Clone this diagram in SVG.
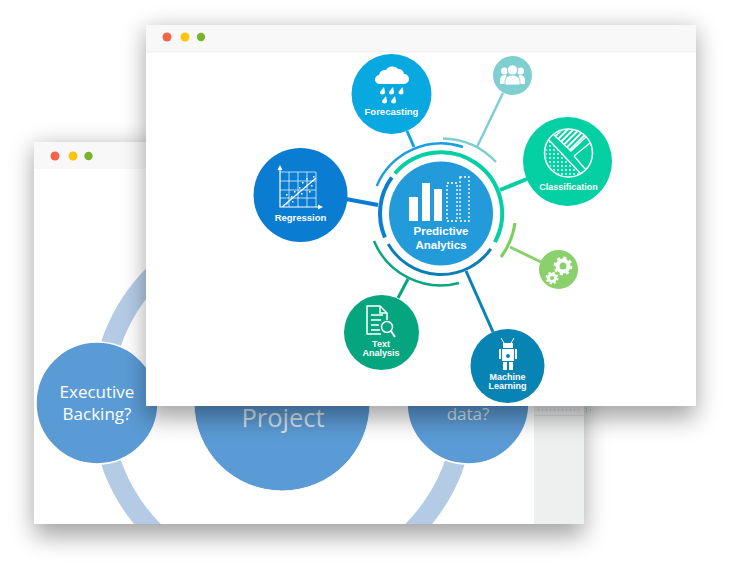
<svg xmlns="http://www.w3.org/2000/svg" width="732" height="564" viewBox="0 0 732 564">
<style>
.bar{fill:#f8f8f8}
.bt{font-family:"Open Sans","Noto Sans",sans-serif;text-anchor:middle}
.ft{font-family:"Liberation Sans",Arial,sans-serif;font-weight:700;fill:#fff;text-anchor:middle}
.arc{fill:none}
.ic{fill:none;stroke:#fff}
.w{fill:#fff}
</style>
<defs>
<filter id="blur" x="-20%" y="-20%" width="140%" height="140%"><feGaussianBlur stdDeviation="12"/></filter>
<clipPath id="backClip"><rect x="34" y="142" width="550" height="382"/></clipPath>
<pattern id="dots" width="4" height="4" patternUnits="userSpaceOnUse"><circle cx="2" cy="2" r="0.9" fill="#fff"/></pattern>
<pattern id="hatch" width="4" height="4" patternUnits="userSpaceOnUse" patternTransform="rotate(45)"><rect width="2" height="4" fill="#fff"/></pattern>
</defs>

<g id="back-window">
<rect x="34" y="147" width="550" height="389" fill="#000" opacity="0.36" filter="url(#blur)"/>
<rect x="34" y="142" width="550" height="382" fill="#fff"/>
<rect x="34" y="142" width="550" height="27" class="bar"/>
<circle cx="55" cy="156" r="4.500" fill="#f4644a"/>
<circle cx="73" cy="156" r="4.500" fill="#fdc40c"/>
<circle cx="88.500" cy="156" r="4.200" fill="#7cb32c"/>
<rect x="534" y="406" width="50" height="118" fill="#eeefef"/>
<path d="M538 410H581" fill="none" stroke="#8fb4d8" stroke-width="0.800" stroke-dasharray="1 3"/>
<path d="M534 415.500H584" fill="none" stroke="#d9d9d9" stroke-width="0.800"/>
<path d="M586.500 408.500v4M590 410h1" fill="none" stroke="#3fbf8f" stroke-width="0.800" stroke-dasharray="1 1.500"/>
<g clip-path="url(#backClip)">
<circle cx="283" cy="403" r="182" fill="none" stroke="#b4cbe6" stroke-width="20"/>
</g>
</g>
<g id="node-project">
<circle cx="282" cy="403" r="88" fill="#5b9bd5" stroke="#fff" stroke-width="1"/>
<text class="bt" x="283" y="427" font-size="25.500" fill="#d9e2ea">Project</text>
</g>
<g id="node-executive">
<circle cx="97" cy="403" r="61" fill="#5b9bd5" stroke="#fff" stroke-width="1.500"/>
<text class="bt" x="97" y="398" font-size="17" fill="#fff">Executive</text>
<text class="bt" x="97" y="420" font-size="17" fill="#fff">Backing?</text>
</g>
<g id="node-data">
<circle cx="468" cy="403" r="61" fill="#5b9bd5" stroke="#fff" stroke-width="1.500"/>
<text class="bt" x="468" y="420" font-size="17" fill="#d9e2ea">data?</text>
</g>

<g id="front-window">
<rect x="146" y="30" width="550" height="388" fill="#000" opacity="0.36" filter="url(#blur)"/>
<rect x="146" y="25" width="550" height="381" fill="#fff"/>
<rect x="146" y="25" width="550" height="26" class="bar"/>
<rect x="146" y="51" width="550" height="1.500" fill="#f1f1f1"/>
<circle cx="167" cy="37" r="4.500" fill="#f4644a"/>
<circle cx="185" cy="37" r="4.500" fill="#fdc40c"/>
<circle cx="201" cy="37" r="4.200" fill="#7cb32c"/>
</g>

<g id="connectors" fill="none">
<path d="M407 131L414 147" stroke="#0ea3e0" stroke-width="3"/>
<path d="M503 93L477 147" stroke="#7fcfd0" stroke-width="2.500"/>
<path d="M500 190L527 179" stroke="#04d0a3" stroke-width="4"/>
<path d="M346 199L378 205" stroke="#0a7dd2" stroke-width="4"/>
<path d="M398 298L408 279" stroke="#04a57f" stroke-width="3"/>
<path d="M466 271L493 332" stroke="#0784b4" stroke-width="3"/>
<path d="M510 247L541 262" stroke="#8ad06b" stroke-width="3"/>
<path class="arc" d="M394.900 173.500A61 61 0 0 1 494.900 242.100" stroke="#06cfa4" stroke-width="4"/>
<path class="arc" d="M384.900 237.500A61 61 0 0 1 391.800 177.400" stroke="#0c7ed0" stroke-width="4"/>
<path class="arc" d="M490.800 248.900A61 61 0 0 1 388.200 244" stroke="#0a7fb5" stroke-width="3"/>
<path class="arc" d="M376.700 185.900A70 70 0 0 1 463 147" stroke="#1b9fe0" stroke-width="2.500"/>
<path class="arc" d="M443 138.500A75 75 0 0 1 496 162" stroke="#7fcfd0" stroke-width="2.500"/>
<path class="arc" d="M459 283A72 72 0 0 1 374 241" stroke="#0aa67e" stroke-width="2.500"/>
<path class="arc" d="M515 223A75 75 0 0 1 501 257" stroke="#7ccf5f" stroke-width="3"/>
</g>

<g id="node-predictive">
<circle cx="441" cy="213.500" r="52" fill="#239bdb"/>
<rect class="w" x="409" y="197" width="9" height="24"/>
<rect class="w" x="422" y="183" width="8" height="38"/>
<rect class="w" x="434" y="189" width="8" height="32"/>
<rect x="447" y="183" width="10" height="38" fill="none" stroke="#fff" stroke-width="1.300" stroke-dasharray="2 2"/>
<rect x="460" y="177" width="9" height="44" fill="none" stroke="#fff" stroke-width="1.300" stroke-dasharray="2 2"/>
<text class="ft" x="441" y="235" font-size="11.500">Predictive</text>
<text class="ft" x="441" y="249" font-size="11.500">Analytics</text>
</g>

<g id="node-forecasting">
<circle cx="391.500" cy="94" r="40" fill="#08a8e0"/>
<path class="w" d="M380 84a4.500 4.500 0 0 1-1-9a6 6 0 0 1 7-5a7.500 7.500 0 0 1 12-1a6 6 0 0 1 6 5a5 5 0 0 1 0 10z"/>
<path class="w" d="M384 87l1 5a2.500 2.500 0 1 1-5 0zM393 87l1 5a2.500 2.500 0 1 1-5 0zM402.500 87l1 5a2.500 2.500 0 1 1-5 0zM386 96l1 5a2.500 2.500 0 1 1-5 0zM395 96l1 5a2.500 2.500 0 1 1-5 0z"/>
<text class="ft" x="391.500" y="115" font-size="9.500">Forecasting</text>
</g>

<g id="node-users">
<circle cx="512.500" cy="75.500" r="19.500" fill="#7fcfd0"/>
<circle class="w" cx="504.500" cy="71" r="3.500"/>
<circle class="w" cx="520.500" cy="71" r="3.500"/>
<path class="w" d="M500 84v-4a5 5 0 0 1 6-5l2 9zM525 84v-4a5 5 0 0 0-6-5l-2 9z"/>
<circle cx="512.500" cy="70" r="5.200" class="w" stroke="#7fcfd0"/>
<path class="w" d="M505 85v-4a7.500 6 0 0 1 15 0v4z" stroke="#7fcfd0" stroke-width="0.800"/>
</g>

<g id="node-classification">
<circle cx="567.500" cy="161.500" r="44.500" fill="#04d0a3"/>
<path d="M549 141A24 24 0 0 0 581 174z" fill="url(#dots)"/>
<path d="M554 135A24 24 0 0 1 586 137L571 151z" fill="url(#hatch)"/>
<circle class="ic" cx="568.500" cy="153" r="24" stroke-width="1.500"/>
<path class="ic" d="M549 140L581 174M554 135L571 151L586 137M574 156L590 143M574 156L586 170" stroke-width="1.300"/>
<text class="ft" x="568.500" y="190" font-size="9">Classification</text>
</g>

<g id="node-gears">
<circle cx="558.500" cy="269.500" r="19.500" fill="#8ad06b"/>
<circle cx="563" cy="266" r="5.500" fill="none" stroke="#fff" stroke-width="4"/>
<circle cx="563" cy="266" r="8.200" fill="none" stroke="#fff" stroke-width="2.400" stroke-dasharray="3.200 3.240"/>
<circle cx="552" cy="278" r="3.500" fill="none" stroke="#fff" stroke-width="3"/>
<circle cx="552" cy="278" r="5.500" fill="none" stroke="#fff" stroke-width="1.800" stroke-dasharray="2.150 2.170"/>
</g>

<g id="node-regression">
<circle cx="300.500" cy="195" r="47" fill="#0a7dd2"/>
<path class="ic" stroke-width="0.700" d="M280 172H316V207M280 181H316M280 190H316M280 198H316M289 172V207M298 172V207M307 172V207"/>
<path class="ic" stroke-width="1.200" d="M280 168V207H321M282 207L316 178"/>
<path class="w" d="M280 165l-2.500 5h5zM323 207l-5-2.500v5z"/>
<path class="w" d="M286 194h1.500v1.500h-1.500zM291 196h1.500v1.500h-1.500zM294 191h1.500v1.500h-1.500zM292 201h1.500v1.500h-1.500zM299 187h1.500v1.500h-1.500zM301 193h1.500v1.500h-1.500zM302 182h1.500v1.500h-1.500zM309 191h1.500v1.500h-1.500zM311 185h1.500v1.500h-1.500zM313 176h1.500v1.500h-1.500zM306 178h1.500v1.500h-1.500zM286 203h1.500v1.500h-1.500z"/>
<text class="ft" x="300.500" y="221" font-size="9.500">Regression</text>
</g>

<g id="node-text-analysis">
<circle cx="381.500" cy="332.500" r="37.500" fill="#04a57f"/>
<path class="ic" stroke-width="1.500" d="M381 334H367V306H380L387 313V320M380 306V313H387M371 315H383M371 320H381M371 325H379M371 330H380"/>
<circle class="ic" cx="387" cy="327" r="5.500" stroke-width="1.500"/>
<path class="ic" stroke-width="2" d="M391 331L395 337"/>
<text class="ft" x="381" y="347" font-size="9">Text</text>
<text class="ft" x="381" y="356" font-size="9">Analysis</text>
</g>

<g id="node-machine-learning">
<circle cx="507.500" cy="366" r="37" fill="#0784b4"/>
<path class="ic" stroke-width="1" d="M504 343L501 338M511 343L514 338"/>
<rect class="w" x="503" y="343" width="10" height="5"/>
<rect class="w" x="502" y="349" width="12" height="12"/>
<path class="w" d="M499 349h2v10h-2zM515 349h2v10h-2zM503 362h4v8h-4zM509 362h4v8h-4z"/>
<circle cx="508" cy="356" r="2" fill="#0784b4"/>
<text class="ft" x="507.500" y="380" font-size="9">Machine</text>
<text class="ft" x="507.500" y="389" font-size="9">Learning</text>
</g>
</svg>
